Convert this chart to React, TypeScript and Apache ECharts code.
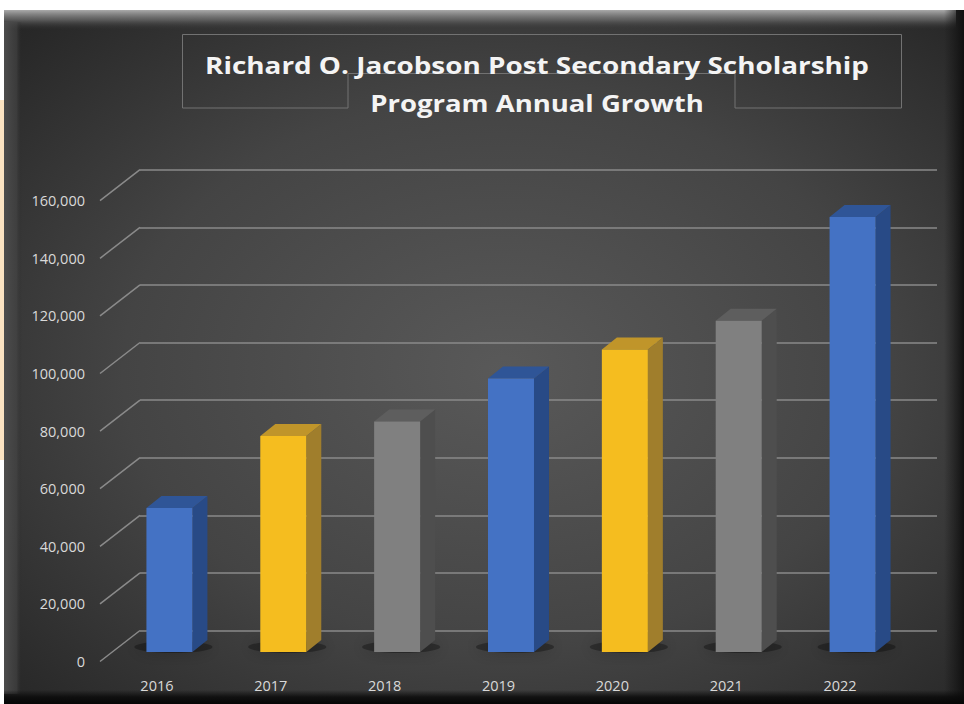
import React, { useEffect, useRef } from "react";
import * as echarts from "echarts";

// ---- data ----
const years = ["2016", "2017", "2018", "2019", "2020", "2021", "2022"];
const scholarships = [50000, 75000, 80000, 95000, 105000, 115000, 151000];
const gridValues = [0, 20000, 40000, 60000, 80000, 100000, 120000, 140000, 160000];
const yMin = 0;
const yMax = 160000;
const yStep = 20000;
const titleLines = [
  "Richard O. Jacobson Post Secondary Scholarship",
  "Program Annual Growth",
];
// bar colours cycle: blue, gold, grey
const frontColors = ["#4472C4", "#F5BD1F", "#808080"];
const sideColors = ["#284A86", "#A07E2C", "#4E4E4E"];
const topColors = ["#2F5597", "#C0952A", "#5E5E5E"];

// ---- geometry of the pseudo-3D frame ----
const DEPTH_X = 40; // front plane -> back wall
const DEPTH_Y = 31;
const BAR_DX = 15;
const BAR_DY = 12;

const fmt = (v: number) => v.toLocaleString("en-US");

export default function App() {
  const ref = useRef<HTMLDivElement>(null);

  useEffect(() => {
    document.body.style.margin = "0";
    if (!ref.current) return;
    const chart = echarts.init(ref.current, undefined, { renderer: "svg" });

    const labelStyle = {
      color: "#d9d9d9",
      fontSize: 14.5,
      fontFamily: "Open Sans",
    };

    const titleStyle = (text: string) => ({
      text,
      fill: "#f4f4f4",
      font: "bold 24px 'Open Sans'",
      textAlign: "center",
      textVerticalAlign: "middle",
      shadowColor: "rgba(0,0,0,0.85)",
      shadowBlur: 4,
      shadowOffsetX: 1,
      shadowOffsetY: 2,
    });

    const option: any = {
      animation: false,
      grid: [
        { left: 100, right: 67, top: 200.7, bottom: 42.5 }, // front plane (labels)
        { left: 140, right: 27, top: 169.7, bottom: 73.5 }, // back wall (grid lines)
        { left: 112.5, right: 54.5, top: 191.2, bottom: 52 }, // bar plane
      ],
      xAxis: [
        {
          type: "category",
          gridIndex: 0,
          data: years,
          axisLine: { show: false },
          axisTick: { show: false },
          axisLabel: { ...labelStyle, margin: 16 },
          splitLine: { show: false },
        },
        { type: "category", gridIndex: 1, data: years, show: false },
        { type: "category", gridIndex: 2, data: years, show: false },
      ],
      yAxis: [
        {
          type: "value",
          gridIndex: 0,
          min: yMin,
          max: yMax,
          interval: yStep,
          axisLine: { show: false },
          axisTick: { show: false },
          axisLabel: { ...labelStyle, margin: 15, formatter: fmt },
          splitLine: { show: false },
        },
        {
          type: "value",
          gridIndex: 1,
          min: yMin,
          max: yMax,
          interval: yStep,
          axisLine: { show: false },
          axisTick: { show: false },
          axisLabel: { show: false },
          splitLine: { show: true, lineStyle: { color: "#8a8a8a", width: 1.5 } },
        },
        {
          type: "value",
          gridIndex: 2,
          min: yMin,
          max: yMax,
          interval: yStep,
          show: false,
        },
      ],
      graphic: [
        // page strip on the left
        { type: "rect", shape: { x: 0, y: 0, width: 964, height: 704 }, style: { fill: "#ffffff" }, z: -20 },
        { type: "rect", shape: { x: 0, y: 100, width: 5, height: 360 }, style: { fill: "#FBE3C2" }, z: -19 },
        // panel background
        {
          type: "rect",
          shape: { x: 4, y: 10, width: 960, height: 694 },
          style: {
            fill: {
              type: "radial",
              x: 0.52,
              y: 0.52,
              r: 0.72,
              colorStops: [
                { offset: 0, color: "#595959" },
                { offset: 0.55, color: "#444444" },
                { offset: 1, color: "#252525" },
              ],
            },
          },
          z: -18,
        },
        // top bevel
        {
          type: "rect",
          shape: { x: 4, y: 10, width: 952, height: 20 },
          style: {
            fill: {
              type: "linear",
              x: 0, y: 0, x2: 0, y2: 1,
              colorStops: [
                { offset: 0, color: "rgba(170,170,170,1)" },
                { offset: 0.5, color: "rgba(110,110,110,0.7)" },
                { offset: 1, color: "rgba(50,50,50,0)" },
              ],
            },
          },
          z: -17,
        },
        // left bevel
        {
          type: "rect",
          shape: { x: 4, y: 22, width: 18, height: 672 },
          style: {
            fill: {
              type: "linear",
              x: 0, y: 0, x2: 1, y2: 0,
              colorStops: [
                { offset: 0, color: "rgba(80,80,80,0.9)" },
                { offset: 0.7, color: "rgba(70,70,70,0.6)" },
                { offset: 1, color: "rgba(40,40,40,0)" },
              ],
            },
          },
          z: -17,
        },
        // right shade
        {
          type: "rect",
          shape: { x: 944, y: 10, width: 20, height: 694 },
          style: {
            fill: {
              type: "linear",
              x: 0, y: 0, x2: 1, y2: 0,
              colorStops: [
                { offset: 0, color: "rgba(20,20,20,0)" },
                { offset: 1, color: "rgba(15,15,15,0.95)" },
              ],
            },
          },
          z: -16,
        },
        // bottom shade
        {
          type: "rect",
          shape: { x: 4, y: 690, width: 960, height: 14 },
          style: {
            fill: {
              type: "linear",
              x: 0, y: 0, x2: 0, y2: 1,
              colorStops: [
                { offset: 0, color: "rgba(10,10,10,0)" },
                { offset: 0.5, color: "rgba(10,10,10,0.85)" },
                { offset: 1, color: "rgba(5,5,5,1)" },
              ],
            },
          },
          z: -16,
        },
        // title box outline
        {
          type: "polygon",
          shape: {
            points: [
              [182.5, 34.5], [901.5, 34.5], [901.5, 108], [735, 108],
              [735, 73.5], [348, 73.5], [348, 108], [182.5, 108],
            ],
          },
          style: { fill: "none", stroke: "#727272", lineWidth: 1 },
          z: -10,
        },
        // title text (horizontally stretched to match the wide original lettering)
        {
          type: "text",
          x: 537,
          y: 64.5,
          scaleX: 1.16,
          style: titleStyle(titleLines[0]),
          z: 10,
        },
        {
          type: "text",
          x: 537,
          y: 103,
          scaleX: 1.145,
          style: titleStyle(titleLines[1]),
          z: 10,
        },
      ],
      series: [
        {
          type: "custom",
          name: "floor-diagonals",
          xAxisIndex: 1,
          yAxisIndex: 1,
          data: gridValues.map((v) => [0, v]),
          z: 1,
          silent: true,
          renderItem: (params: any, api: any) => {
            const p = api.coord([0, api.value(1)]);
            const cs = params.coordSys;
            return {
              type: "line",
              shape: { x1: cs.x - DEPTH_X, y1: p[1] + DEPTH_Y, x2: cs.x, y2: p[1] },
              style: { stroke: "#8a8a8a", lineWidth: 1.5 },
            };
          },
        },
        {
          type: "custom",
          name: "Scholarships",
          xAxisIndex: 2,
          yAxisIndex: 2,
          z: 5,
          data: years.map((y, i) => [i, scholarships[i]]),
          encode: { x: 0, y: 1 },
          renderItem: (params: any, api: any) => {
            const idx = api.value(0);
            const val = api.value(1);
            const top = api.coord([idx, val]);
            const base = api.coord([idx, 0]);
            const band = api.size([1, 0])[0];
            const w = band * 0.404;
            const x0 = top[0] - w / 2;
            const x1 = x0 + w;
            const c = idx % 3;
            return {
              type: "group",
              children: [
                {
                  type: "ellipse",
                  shape: { cx: x0 + w / 2 + 4, cy: base[1] - 5, rx: w * 0.85, ry: 6 },
                  style: {
                    fill: "rgba(15,15,15,0.32)",
                    shadowBlur: 16,
                    shadowColor: "rgba(0,0,0,0.7)",
                  },
                },
                {
                  type: "polygon",
                  shape: {
                    points: [
                      [x1, top[1]],
                      [x1 + BAR_DX, top[1] - BAR_DY],
                      [x1 + BAR_DX, base[1] - BAR_DY],
                      [x1, base[1]],
                    ],
                  },
                  style: { fill: sideColors[c] },
                },
                {
                  type: "polygon",
                  shape: {
                    points: [
                      [x0, top[1]],
                      [x0 + BAR_DX, top[1] - BAR_DY],
                      [x1 + BAR_DX, top[1] - BAR_DY],
                      [x1, top[1]],
                    ],
                  },
                  style: { fill: topColors[c] },
                },
                {
                  type: "rect",
                  shape: { x: x0, y: top[1], width: w, height: base[1] - top[1] },
                  style: { fill: frontColors[c] },
                },
              ],
            };
          },
        },
      ],
    };

    chart.setOption(option);
    return () => chart.dispose();
  }, []);

  return <div ref={ref} style={{ width: 964, height: 704 }} />;
}
